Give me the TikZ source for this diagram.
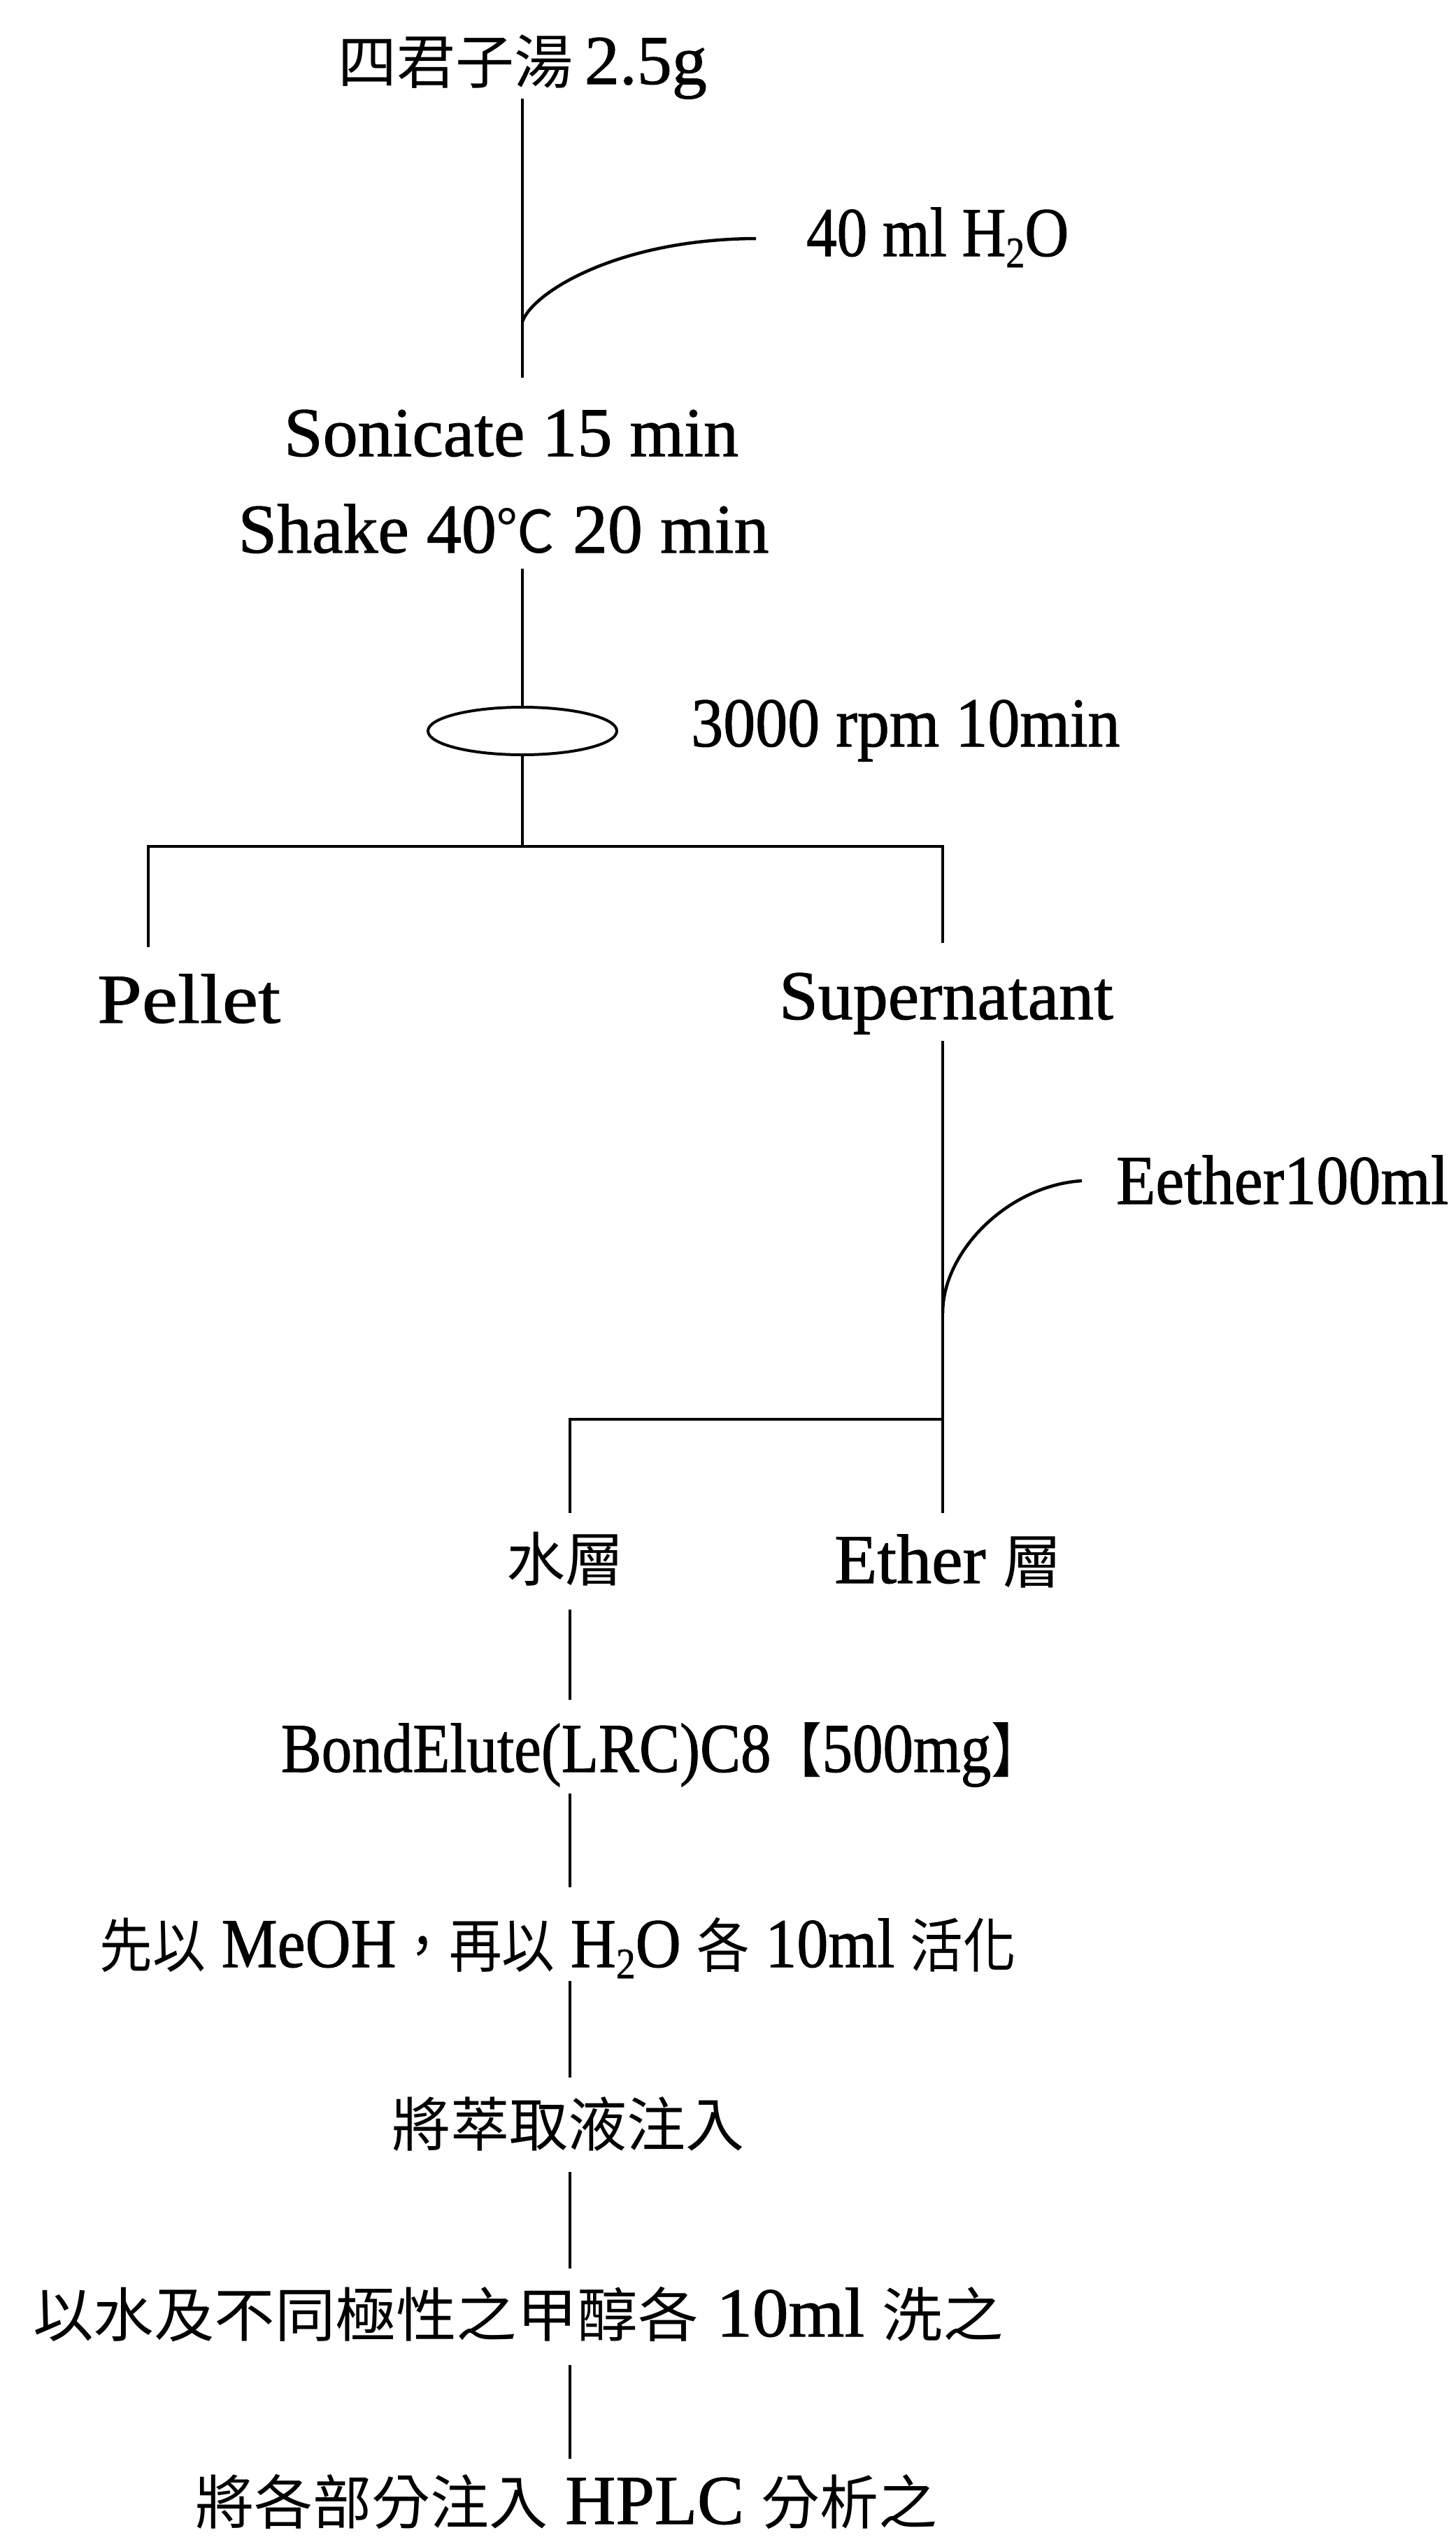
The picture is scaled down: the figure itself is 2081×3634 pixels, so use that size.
\documentclass[tikz,border=0pt]{standalone}
\usepackage{fontspec}
\usepackage{graphicx}
\setmainfont[FakeBold=1]{Liberation Serif}
\newfontfamily\cjk[Scale=0.84]{Noto Sans CJK TC}
\usetikzlibrary{shapes.geometric}
\newcommand{\subtwo}{\raisebox{-16pt}{\fontsize{62}{62}\selectfont 2}}
\begin{document}
\begin{tikzpicture}[x=1pt,y=1pt,
  txt/.style={inner sep=0pt, anchor=base, font=\fontsize{100}{110}\selectfont},
  link/.style={line width=4.5pt, line cap=butt}]
\useasboundingbox (0,0) rectangle (2081,-3634);

% text nodes
\node[txt] (title) at (747,-120) {{\cjk 四君子湯}\,2.5g};
\node[txt, anchor=base west] (water) at (1153,-366) {\scalebox{0.87}[1]{40 ml H\subtwo O}};
\node[txt] (son) at (731,-652) {Sonicate 15 min};
\node[txt] (shake) at (720,-790) {Shake 40{\cjk ℃} 20 min};
\node[draw, ellipse, line width=4pt, minimum width=270pt, minimum height=68pt, inner sep=0pt] (cent) at (747,-1045) {};
\node[txt, anchor=base west] (rpm) at (988,-1067) {\scalebox{0.92}[1]{3000 rpm 10min}};
\node[txt] (pellet) at (270,-1462) {\scalebox{1.15}[1]{Pellet}};
\node[txt] (super) at (1353,-1457) {Supernatant};
\node[txt, anchor=base west] (eth) at (1596,-1721) {\scalebox{0.92}[1]{Eether100ml}};
\node[txt] (aq) at (808,-2260) {\cjk 水層};
\node[txt] (etl) at (1356,-2263) {Ether {\cjk 層}};
\node[txt] (bond) at (946,-2533) {\scalebox{0.87}[1]{BondElute(LRC)C8{\cjk 【}500mg{\cjk 】}}};
\node[txt] (act) at (798,-2812) {\scalebox{0.9}[1]{{\cjk 先以} MeOH{\cjk ，再以} H\subtwo O {\cjk 各} 10ml {\cjk 活化}}};
\node[txt] (inj) at (812,-3068) {\cjk 將萃取液注入};
\node[txt] (wash) at (741,-3340) {\scalebox{1.03}[1]{{\cjk 以水及不同極性之甲醇各} 10ml {\cjk 洗之}}};
\node[txt] (hplc) at (810,-3608) {{\cjk 將各部分注入} HPLC {\cjk 分析之}};

% connector end points
\coordinate (a1) at (747,-141);
\coordinate (a2) at (747,-540);
\coordinate (c1s) at (747,-460);
\coordinate (c1e) at (1081,-341);
\coordinate (a3) at (747,-813);
\coordinate (j1) at (747,-1210);
\coordinate (jl) at (212,-1210);
\coordinate (jr) at (1348,-1210);
\coordinate (pl) at (212,-1354);
\coordinate (sr) at (1348,-1348);
\coordinate (s1) at (1348,-1488);
\coordinate (s2) at (1348,-2163);
\coordinate (c2s) at (1348,-1877);
\coordinate (c2e) at (1547,-1688);
\coordinate (j2) at (1348,-2029);
\coordinate (jl2) at (815,-2029);
\coordinate (aqt) at (815,-2163);
\coordinate (b1) at (815,-2301);
\coordinate (b2) at (815,-2430);
\coordinate (d1) at (815,-2564);
\coordinate (d2) at (815,-2698);
\coordinate (e1) at (815,-2832);
\coordinate (e2) at (815,-2970);
\coordinate (f1) at (815,-3105);
\coordinate (f2) at (815,-3243);
\coordinate (g1) at (815,-3381);
\coordinate (g2) at (815,-3515);

% connectors
\draw[link] (a1) -- (a2);
\draw[link] (c1s) .. controls (760,-420) and (880,-342) .. (c1e);
\draw[link] (a3) -- (cent.north);
\draw[link] (cent.south) -- (j1);
\draw[link] (pl) -- (jl) -- (jr) -- (sr);
\draw[link] (s1) -- (s2);
\draw[link] (c2s) .. controls (1348,-1790) and (1440,-1695) .. (c2e);
\draw[link] (aqt) -- (jl2) -- (j2);
\draw[link] (b1) -- (b2);
\draw[link] (d1) -- (d2);
\draw[link] (e1) -- (e2);
\draw[link] (f1) -- (f2);
\draw[link] (g1) -- (g2);
\end{tikzpicture}
\end{document}
